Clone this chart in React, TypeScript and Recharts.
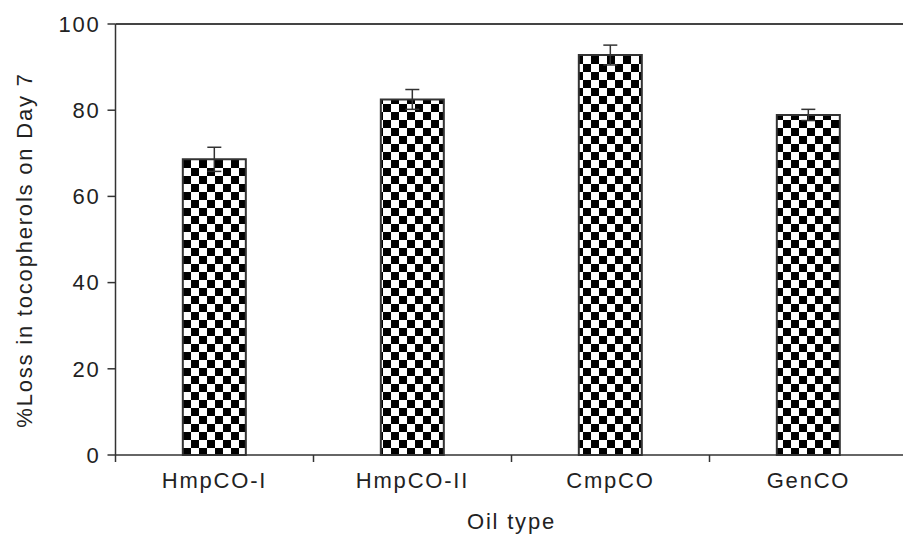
import React from "react";
import {
    BarChart,
    Bar,
    XAxis,
    YAxis,
    ErrorBar,
    ReferenceLine,
} from "recharts";

const categories = ["HmpCO-I", "HmpCO-II", "CmpCO", "GenCO"];
const lossValues = [68.6, 82.5, 92.8, 78.9];
const lossErrors = [2.8, 2.3, 2.3, 1.3];
const yTicks = [0, 20, 40, 60, 80, 100];

const data = categories.map((name, i) => ({
    name,
    loss: lossValues[i],
    err: lossErrors[i],
}));

const CHART_W = 915;
const CHART_H = 537;
const MARGIN = { top: 24, right: 7.5, left: 0, bottom: 0 };
const Y_AXIS_W = 115.5;
const X_AXIS_H = 82;
const BAND = (CHART_W - Y_AXIS_W - MARGIN.right) / categories.length;

const INK = "#333333";
const TEXT = "#222222";
const FONT = "'Liberation Sans', Arial, sans-serif";
const FONT_SIZE = 22;
const SPACING = 1.8;

// category ticks sit on the band edges, labels in the middle
const XTick = ({ x, y, payload }: any) => {
    const axisY = y - 18;
    return (
        <g>
            <line
                x1={x - BAND / 2}
                x2={x - BAND / 2}
                y1={axisY}
                y2={axisY + 7}
                stroke={INK}
                strokeWidth={1.5}
            />
            <text
                x={x}
                y={y}
                dy="0.7em"
                textAnchor="middle"
                fontSize={FONT_SIZE}
                fontFamily={FONT}
                letterSpacing={SPACING}
                fill={TEXT}
            >
                {payload.value}
            </text>
        </g>
    );
};

const YLabel = () => (
    <text
        x={24}
        y={250}
        transform="rotate(-90, 24, 250)"
        textAnchor="middle"
        dominantBaseline="central"
        fontSize={FONT_SIZE}
        fontFamily={FONT}
        letterSpacing={SPACING}
        fill={TEXT}
    >
        %Loss in tocopherols on Day 7
    </text>
);

export default function App() {
    return (
        <div
            style={{
                position: "absolute",
                left: 0,
                top: 0,
                width: 903,
                height: 537,
                overflow: "hidden",
                background: "#fff",
            }}
        >
            <BarChart
                width={CHART_W}
                height={CHART_H}
                data={data}
                margin={MARGIN}
                barCategoryGap="34%"
            >
                <defs>
                    <pattern
                        id="checker"
                        width={16}
                        height={16}
                        patternUnits="userSpaceOnUse"
                        x={183}
                        y={0}
                    >
                        <rect width={16} height={16} fill="#fff" />
                        <rect x={0} y={0} width={8} height={8} fill="#000" />
                        <rect x={8} y={8} width={8} height={8} fill="#000" />
                    </pattern>
                </defs>
                <ReferenceLine y={100} stroke="#444" strokeWidth={2} ifOverflow="extendDomain" />
                <XAxis
                    dataKey="name"
                    height={X_AXIS_H}
                    tickSize={7}
                    tickMargin={11}
                    tickLine={false}
                    axisLine={{ stroke: INK, strokeWidth: 1.5 }}
                    tick={<XTick />}
                    interval={0}
                    label={{
                        value: "Oil type",
                        position: "insideBottom",
                        offset: 8,
                        fontSize: FONT_SIZE,
                        fontFamily: FONT,
                        letterSpacing: SPACING,
                        fill: TEXT,
                    }}
                />
                <YAxis
                    width={Y_AXIS_W}
                    domain={[0, 100]}
                    ticks={yTicks}
                    tickSize={8}
                    tickMargin={7}
                    axisLine={{ stroke: INK, strokeWidth: 1.5 }}
                    tickLine={{ stroke: INK, strokeWidth: 1.5 }}
                    tick={{
                        fontSize: FONT_SIZE,
                        fontFamily: FONT,
                        letterSpacing: SPACING,
                        fill: TEXT,
                    }}
                    label={<YLabel />}
                />
                <Bar
                    dataKey="loss"
                    fill="url(#checker)"
                    stroke={INK}
                    strokeWidth={2}
                    isAnimationActive={false}
                >
                    <ErrorBar
                        dataKey="err"
                        width={7}
                        stroke={INK}
                        strokeWidth={1.5}
                        direction="y"
                    />
                </Bar>
            </BarChart>
        </div>
    );
}
